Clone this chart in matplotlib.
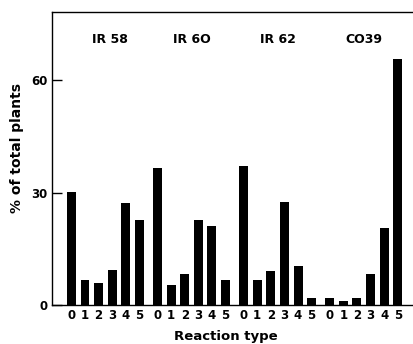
import numpy as np
import matplotlib
matplotlib.use("Agg")
import matplotlib.pyplot as plt

# Percent of total plants per reaction type, one list per variety
varieties = ["IR 58", "IR 6O", "IR 62", "CO39"]
reaction_types = ["0", "1", "2", "3", "4", "5"]
ir58 = [30.2, 6.8, 5.8, 9.3, 27.3, 22.6]
ir60 = [36.5, 5.5, 8.4, 22.6, 21.1, 6.7]
ir62 = [37.0, 6.8, 9.1, 27.5, 10.5, 1.9]
co39 = [1.9, 1.1, 1.9, 8.4, 20.6, 65.8]
series = [ir58, ir60, ir62, co39]

plt.rcParams["font.family"] = "DejaVu Sans"
plt.rcParams["font.weight"] = "bold"

fig = plt.figure(figsize=(4.13, 3.44), dpi=100)
ax = fig.add_axes([0.126, 0.113, 0.874, 0.853])

group_step = 6.32
xs, labels = [], []
for g, vals in enumerate(series):
    pos = g * group_step + np.arange(len(vals))
    ax.bar(pos, vals, width=0.66, color="black")
    xs.extend(pos)
    labels.extend(reaction_types)
    ax.text(g * group_step + 2.5 + (0.3 if g == 0 else 0), 71, varieties[g],
            ha="center", va="center", fontsize=9, fontweight="bold")

ax.set_xlim(-1.42, 3 * group_step + 5 + 1.12)
ax.set_ylim(0, 78.3)
ax.set_xticks(xs)
ax.set_xticklabels(labels, fontsize=8.5, fontweight="bold")
ax.set_yticks([0, 30, 60])
ax.set_yticklabels(["0", "30", "60"], fontsize=8.5, fontweight="bold")
ax.tick_params(axis="x", length=0, pad=3)
ax.tick_params(axis="y", direction="in", length=7, width=1, pad=3)

ax.spines["right"].set_visible(False)
for s in ["left", "bottom", "top"]:
    ax.spines[s].set_linewidth(1.0)

ax.set_xlabel("Reaction type", fontsize=9.5, fontweight="bold")
ax.set_ylabel("% of total plants", fontsize=10, fontweight="bold")
ax.xaxis.set_label_coords(0.482, -0.086)
ax.yaxis.set_label_coords(-0.078, 0.536)

fig.savefig("out.png", dpi=100)
